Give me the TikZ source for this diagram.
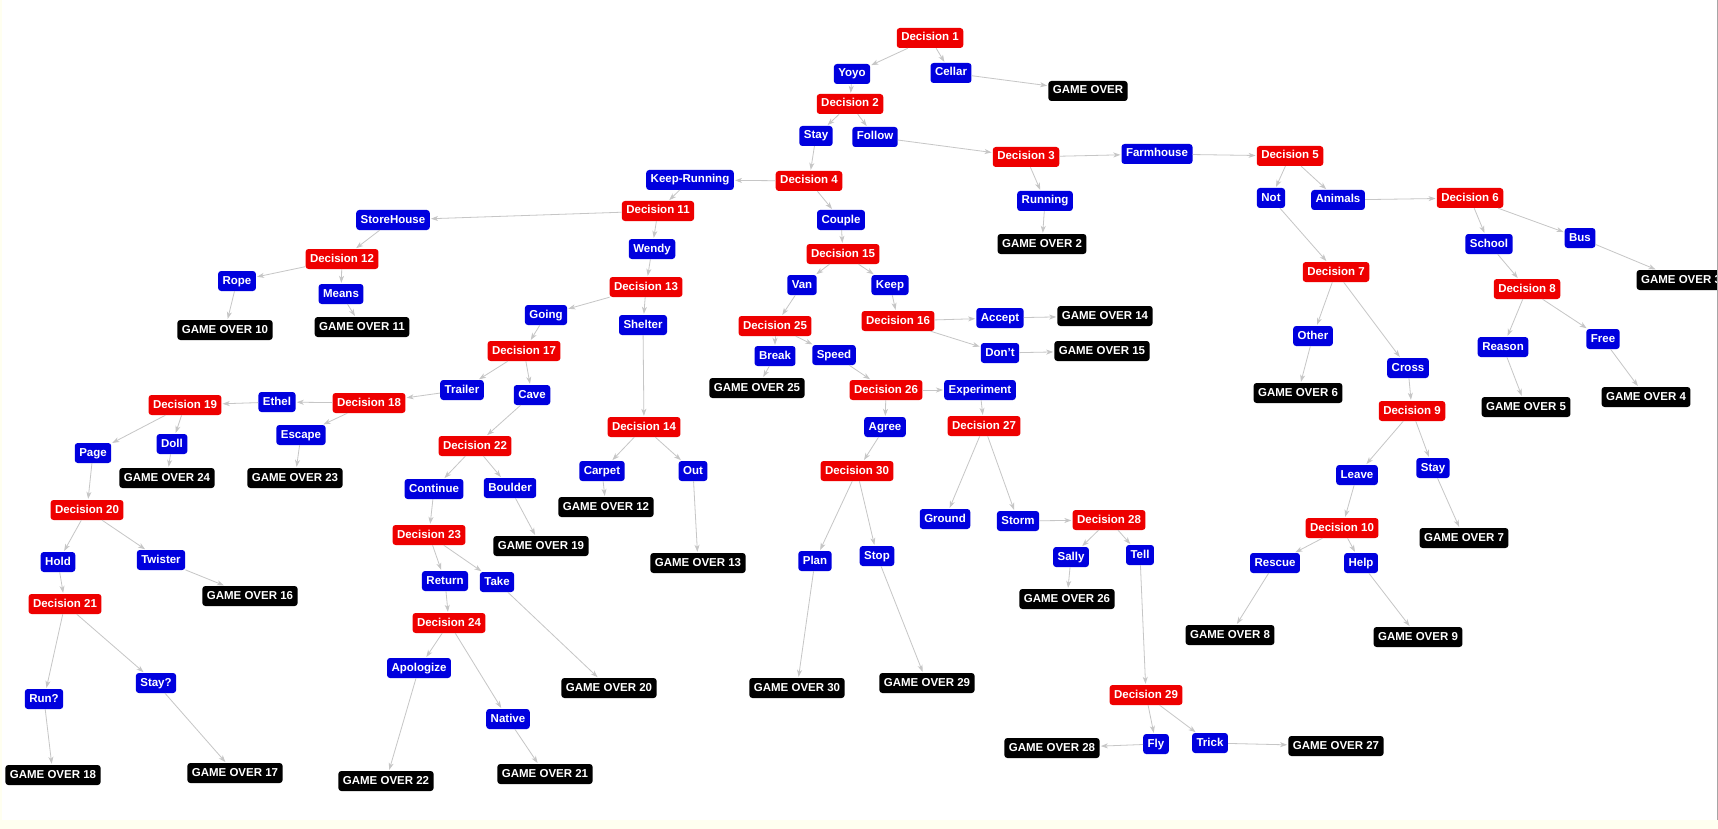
\documentclass[tikz,border=0pt]{standalone}
\usepackage{fontspec}
\setmainfont{Liberation Sans}
\usetikzlibrary{arrows.meta}

\definecolor{decred}{RGB}{238,0,0}
\definecolor{optblue}{RGB}{0,0,222}
\definecolor{edgegray}{RGB}{198,198,198}
\definecolor{pagecream}{RGB}{255,255,240}

\tikzset{
  box/.style={rounded corners=3pt, text=white, inner xsep=4.5pt, inner ysep=0pt,
    minimum height=20pt, text height=8.5pt, text depth=2.5pt,
    font=\bfseries\fontsize{11.5}{12}\selectfont},
  dec/.style={box, fill=decred},
  opt/.style={box, fill=optblue},
  over/.style={box, fill=black}
}

\begin{document}
\begin{tikzpicture}[x=1pt, y=-1pt, >={Stealth[length=7pt,width=5pt,inset=2pt]},
    every edge/.style={draw, edgegray, line width=0.8pt, shorten >=1pt}]
			\useasboundingbox (0,0) rectangle (1718,829);
			\fill[pagecream] (0,0) rectangle (1718,829);
			\fill[white] (2,0) rectangle (1717,820);
			
			% right branch
			\node[dec]	(d1) at (930, 38) 	{Decision 1};
			\node[opt]	(yoyo) at (852, 74) 	{Yoyo};
			\node[opt]	(cellar) at (951, 73) 	{Cellar};
			\node[over]	(go1) at (1088, 91) 	{GAME OVER};
			\node[dec]	(d2) at (850, 104) 	{Decision 2};
			\node[opt]	(stay) at (816, 136) 	{Stay};
			\node[opt]	(follow) at (875, 137) 	{Follow};
			\node[dec]	(d3) at (1026, 157) 	{Decision 3};
			\node[opt]	(farm) at (1157, 154) 	{Farmhouse};
			\node[opt]	(running) at (1045, 201) 	{Running};
			\node[over]	(go2) at (1042, 244) 	{GAME OVER 2};
			\node[dec]	(d5) at (1290, 156) 	{Decision 5};
			\node[opt]	(not) at (1271, 198) 	{Not};
			\node[opt]	(animals) at (1338, 200) 	{Animals};
			\node[dec]	(d6) at (1470, 198) 	{Decision 6};
			\node[opt]	(school) at (1489, 244) 	{School};
			\node[opt]	(bus) at (1580, 238) 	{Bus};
			\node[over]	(go3) at (1681, 280) 	{GAME OVER 3};
			\node[dec]	(d7) at (1336, 272) 	{Decision 7};
			\node[dec]	(d8) at (1527, 289) 	{Decision 8};
			\node[opt]	(other) at (1313, 336) 	{Other};
			\node[opt]	(reason) at (1503, 347) 	{Reason};
			\node[opt]	(free) at (1603, 339) 	{Free};
			\node[opt]	(cross) at (1408, 368) 	{Cross};
			\node[over]	(go6) at (1298, 393) 	{GAME OVER 6};
			\node[over]	(go5) at (1526, 407) 	{GAME OVER 5};
			\node[over]	(go4) at (1646, 397) 	{GAME OVER 4};
			\node[dec]	(d9) at (1412, 411) 	{Decision 9};
			\node[opt]	(leave) at (1357, 475) 	{Leave};
			\node[opt]	(stayb) at (1433, 468) 	{Stay};
			\node[dec]	(d10) at (1342, 528) 	{Decision 10};
			\node[over]	(go7) at (1464, 538) 	{GAME OVER 7};
			\node[opt]	(rescue) at (1275, 563) 	{Rescue};
			\node[opt]	(help) at (1361, 563) 	{Help};
			\node[over]	(go8) at (1230, 635) 	{GAME OVER 8};
			\node[over]	(go9) at (1418, 637) 	{GAME OVER 9};
			
			% left branch
			\node[dec]	(d4) at (809, 181) 	{Decision 4};
			\node[opt]	(keeprun) at (690, 180) 	{Keep-Running};
			\node[opt]	(couple) at (841, 220) 	{Couple};
			\node[dec]	(d11) at (658, 211) 	{Decision 11};
			\node[opt]	(store) at (393, 220) 	{StoreHouse};
			\node[opt]	(wendy) at (652, 249) 	{Wendy};
			\node[dec]	(d12) at (342, 259) 	{Decision 12};
			\node[opt]	(rope) at (237, 281) 	{Rope};
			\node[opt]	(means) at (341, 294) 	{Means};
			\node[over]	(go10) at (225, 330) 	{GAME OVER 10};
			\node[over]	(go11) at (362, 327) 	{GAME OVER 11};
			\node[dec]	(d13) at (646, 287) 	{Decision 13};
			\node[opt]	(going) at (546, 315) 	{Going};
			\node[opt]	(shelter) at (643, 325) 	{Shelter};
			\node[dec]	(d17) at (524, 351) 	{Decision 17};
			\node[opt]	(trailer) at (462, 390) 	{Trailer};
			\node[opt]	(cave) at (532, 395) 	{Cave};
			\node[dec]	(d18) at (369, 403) 	{Decision 18};
			\node[opt]	(ethel) at (277, 402) 	{Ethel};
			\node[dec]	(d19) at (185, 405) 	{Decision 19};
			\node[opt]	(escape) at (301, 435) 	{Escape};
			\node[over]	(go23) at (295, 478) 	{GAME OVER 23};
			\node[opt]	(doll) at (172, 444) 	{Doll};
			\node[opt]	(page) at (93, 453) 	{Page};
			\node[over]	(go24) at (167, 478) 	{GAME OVER 24};
			\node[dec]	(d20) at (87, 510) 	{Decision 20};
			\node[opt]	(hold) at (58, 562) 	{Hold};
			\node[opt]	(twister) at (161, 560) 	{Twister};
			\node[over]	(go16) at (250, 596) 	{GAME OVER 16};
			\node[dec]	(d21) at (65, 604) 	{Decision 21};
			\node[opt]	(stayq) at (156, 683) 	{Stay?};
			\node[opt]	(runq) at (44, 699) 	{Run?};
			\node[over]	(go18) at (53, 775) 	{GAME OVER 18};
			\node[over]	(go17) at (235, 773) 	{GAME OVER 17};
			\node[dec]	(d22) at (475, 446) 	{Decision 22};
			\node[opt]	(cont) at (434, 489) 	{Continue};
			\node[opt]	(boulder) at (510, 488) 	{Boulder};
			\node[over]	(go19) at (541, 546) 	{GAME OVER 19};
			\node[dec]	(d23) at (429, 535) 	{Decision 23};
			\node[opt]	(ret) at (445, 581) 	{Return};
			\node[opt]	(take) at (497, 582) 	{Take};
			\node[dec]	(d24) at (449, 623) 	{Decision 24};
			\node[over]	(go20) at (609, 688) 	{GAME OVER 20};
			\node[opt]	(apologize) at (419, 668) 	{Apologize};
			\node[opt]	(native) at (508, 719) 	{Native};
			\node[over]	(go22) at (386, 781) 	{GAME OVER 22};
			\node[over]	(go21) at (545, 774) 	{GAME OVER 21};
			\node[dec]	(d14) at (644, 427) 	{Decision 14};
			\node[opt]	(carpet) at (602, 471) 	{Carpet};
			\node[opt]	(outside) at (693, 471) 	{Out};
			\node[over]	(go12) at (606, 507) 	{GAME OVER 12};
			\node[over]	(go13) at (698, 563) 	{GAME OVER 13};
			
			% middle branch
			\node[dec]	(d15) at (843, 254) 	{Decision 15};
			\node[opt]	(van) at (802, 285) 	{Van};
			\node[opt]	(keep) at (890, 285) 	{Keep};
			\node[dec]	(d25) at (775, 326) 	{Decision 25};
			\node[opt]	(brk) at (775, 356) 	{Break};
			\node[opt]	(speed) at (834, 355) 	{Speed};
			\node[over]	(go25) at (757, 388) 	{GAME OVER 25};
			\node[dec]	(d16) at (898, 321) 	{Decision 16};
			\node[opt]	(accept) at (1000, 318) 	{Accept};
			\node[opt]	(dont) at (1000, 353) 	{Don't};
			\node[over]	(go14) at (1105, 316) 	{GAME OVER 14};
			\node[over]	(go15) at (1102, 351) 	{GAME OVER 15};
			\node[dec]	(d26) at (886, 390) 	{Decision 26};
			\node[opt]	(experiment) at (980, 390) 	{Experiment};
			\node[opt]	(agree) at (885, 427) 	{Agree};
			\node[dec]	(d27) at (984, 426) 	{Decision 27};
			\node[dec]	(d30) at (857, 471) 	{Decision 30};
			\node[opt]	(ground) at (945, 519) 	{Ground};
			\node[opt]	(storm) at (1018, 521) 	{Storm};
			\node[dec]	(d28) at (1109, 520) 	{Decision 28};
			\node[opt]	(plan) at (815, 561) 	{Plan};
			\node[opt]	(stop) at (877, 556) 	{Stop};
			\node[over]	(go30) at (797, 688) 	{GAME OVER 30};
			\node[over]	(go29) at (927, 683) 	{GAME OVER 29};
			\node[opt]	(sally) at (1071, 557) 	{Sally};
			\node[opt]	(tell) at (1140, 555) 	{Tell};
			\node[over]	(go26) at (1067, 599) 	{GAME OVER 26};
			\node[dec]	(d29) at (1146, 695) 	{Decision 29};
			\node[opt]	(fly) at (1156, 744) 	{Fly};
			\node[opt]	(trick) at (1210, 743) 	{Trick};
			\node[over]	(go28) at (1052, 748) 	{GAME OVER 28};
			\node[over]	(go27) at (1336, 746) 	{GAME OVER 27};
			
			\path [->] (d1) edge (yoyo);
			\path [->] (d1) edge (cellar);
			\path [->] (cellar) edge (go1);
			\path [->] (yoyo) edge (d2);
			\path [->] (d2) edge (stay);
			\path [->] (d2) edge (follow);
			\path [->] (follow) edge (d3);
			\path [->] (d3) edge (farm);
			\path [->] (d3) edge (running);
			\path [->] (running) edge (go2);
			\path [->] (farm) edge (d5);
			\path [->] (d5) edge (not);
			\path [->] (d5) edge (animals);
			\path [->] (not) edge (d7);
			\path [->] (animals) edge (d6);
			\path [->] (d6) edge (school);
			\path [->] (d6) edge (bus);
			\path [->] (bus) edge (go3);
			\path [->] (school) edge (d8);
			\path [->] (d8) edge (reason);
			\path [->] (d8) edge (free);
			\path [->] (reason) edge (go5);
			\path [->] (free) edge (go4);
			\path [->] (d7) edge (other);
			\path [->] (d7) edge (cross);
			\path [->] (other) edge (go6);
			\path [->] (cross) edge (d9);
			\path [->] (d9) edge (leave);
			\path [->] (d9) edge (stayb);
			\path [->] (stayb) edge (go7);
			\path [->] (leave) edge (d10);
			\path [->] (d10) edge (rescue);
			\path [->] (d10) edge (help);
			\path [->] (rescue) edge (go8);
			\path [->] (help) edge (go9);
			
			\path [->] (stay) edge (d4);
			\path [->] (d4) edge (keeprun);
			\path [->] (d4) edge (couple);
			\path [->] (keeprun) edge (d11);
			\path [->] (d11) edge (store);
			\path [->] (d11) edge (wendy);
			\path [->] (store) edge (d12);
			\path [->] (d12) edge (rope);
			\path [->] (d12) edge (means);
			\path [->] (rope) edge (go10);
			\path [->] (means) edge (go11);
			\path [->] (wendy) edge (d13);
			\path [->] (d13) edge (going);
			\path [->] (d13) edge (shelter);
			\path [->] (going) edge (d17);
			\path [->] (d17) edge (trailer);
			\path [->] (d17) edge (cave);
			\path [->] (trailer) edge (d18);
			\path [->] (d18) edge (ethel);
			\path [->] (d18) edge (escape);
			\path [->] (escape) edge (go23);
			\path [->] (ethel) edge (d19);
			\path [->] (d19) edge (page);
			\path [->] (d19) edge (doll);
			\path [->] (doll) edge (go24);
			\path [->] (page) edge (d20);
			\path [->] (d20) edge (hold);
			\path [->] (d20) edge (twister);
			\path [->] (twister) edge (go16);
			\path [->] (hold) edge (d21);
			\path [->] (d21) edge (runq);
			\path [->] (d21) edge (stayq);
			\path [->] (runq) edge (go18);
			\path [->] (stayq) edge (go17);
			\path [->] (cave) edge (d22);
			\path [->] (d22) edge (cont);
			\path [->] (d22) edge (boulder);
			\path [->] (boulder) edge (go19);
			\path [->] (cont) edge (d23);
			\path [->] (d23) edge (ret);
			\path [->] (d23) edge (take);
			\path [->] (take) edge (go20);
			\path [->] (ret) edge (d24);
			\path [->] (d24) edge (apologize);
			\path [->] (d24) edge (native);
			\path [->] (apologize) edge (go22);
			\path [->] (native) edge (go21);
			\path [->] (shelter) edge (d14);
			\path [->] (d14) edge (carpet);
			\path [->] (d14) edge (outside);
			\path [->] (carpet) edge (go12);
			\path [->] (outside) edge (go13);
			
			\path [->] (couple) edge (d15);
			\path [->] (d15) edge (van);
			\path [->] (d15) edge (keep);
			\path [->] (van) edge (d25);
			\path [->] (d25) edge (brk);
			\path [->] (d25) edge (speed);
			\path [->] (brk) edge (go25);
			\path [->] (speed) edge (d26);
			\path [->] (d26) edge (agree);
			\path [->] (d26) edge (experiment);
			\path [->] (agree) edge (d30);
			\path [->] (d30) edge (plan);
			\path [->] (d30) edge (stop);
			\path [->] (plan) edge (go30);
			\path [->] (stop) edge (go29);
			\path [->] (experiment) edge (d27);
			\path [->] (d27) edge (ground);
			\path [->] (d27) edge (storm);
			\path [->] (storm) edge (d28);
			\path [->] (d28) edge (sally);
			\path [->] (d28) edge (tell);
			\path [->] (sally) edge (go26);
			\path [->] (tell) edge (d29);
			\path [->] (d29) edge (fly);
			\path [->] (d29) edge (trick);
			\path [->] (fly) edge (go28);
			\path [->] (trick) edge (go27);
			\path [->] (keep) edge (d16);
			\path [->] (d16) edge (accept);
			\path [->] (d16) edge (dont);
			\path [->] (accept) edge (go14);
			\path [->] (dont) edge (go15);
			
			% page frame
			\fill[pagecream] (1717,0) rectangle (1740,829);
			\draw[gray!70, line width=0.8pt] (1717,0) -- (1717,820);
			\end{tikzpicture}
\end{document}
